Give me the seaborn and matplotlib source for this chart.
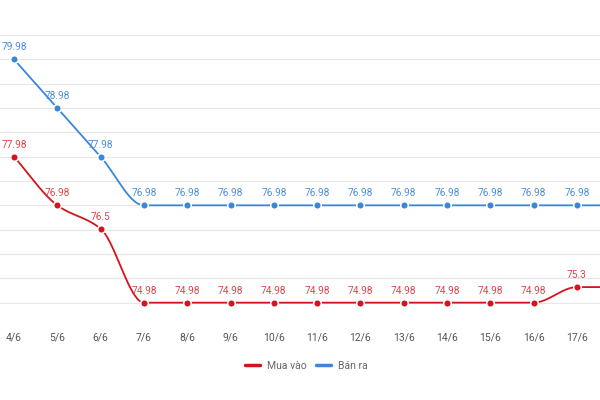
import numpy as np
import pandas as pd
import matplotlib
matplotlib.use("Agg")
import matplotlib.pyplot as plt
import seaborn as sns

dates = ["4/6", "5/6", "6/6", "7/6", "8/6", "9/6", "10/6", "11/6", "12/6",
         "13/6", "14/6", "15/6", "16/6", "17/6", "18/6"]
mua_vao = [77.98, 76.98, 76.5, 74.98, 74.98, 74.98, 74.98, 74.98, 74.98,
           74.98, 74.98, 74.98, 74.98, 75.3, 75.3]
ban_ra = [79.98, 78.98, 77.98, 76.98, 76.98, 76.98, 76.98, 76.98, 76.98,
          76.98, 76.98, 76.98, 76.98, 76.98, 76.98]
series_names = ["Mua vào", "Bán ra"]

RED = "#d4141c"
BLUE = "#3a86d9"
RED_TXT = "#d9474d"
BLUE_TXT = "#4b8fd8"

sns.set_theme(style="white")
plt.rcParams["font.family"] = ["Roboto", "DejaVu Sans"]


def monotone(y, n=40):
    y = np.asarray(y, float)
    x = np.arange(len(y), dtype=float)
    d = np.diff(y)
    m = np.zeros_like(y)
    m[0] = d[0]
    m[-1] = d[-1]
    for i in range(1, len(y) - 1):
        if d[i - 1] * d[i] <= 0:
            m[i] = 0.0
        else:
            m[i] = 2.0 / (1.0 / d[i - 1] + 1.0 / d[i])
    xs, ys = [], []
    for i in range(len(y) - 1):
        t = np.linspace(0, 1, n)
        h00 = 2 * t**3 - 3 * t**2 + 1
        h10 = t**3 - 2 * t**2 + t
        h01 = -2 * t**3 + 3 * t**2
        h11 = t**3 - t**2
        xs.append(x[i] + t)
        ys.append(h00 * y[i] + h10 * m[i] + h01 * y[i + 1] + h11 * m[i + 1])
    return np.concatenate(xs), np.concatenate(ys)


fig = plt.figure(figsize=(6, 4), dpi=100)
ax = fig.add_axes([-7.65 / 600, 73 / 400, 649.5 / 600, 292 / 400])

idx = np.arange(len(dates))
visible = len(dates) - 1  # last point lies beyond the right edge
for vals, col, tcol, name in [(mua_vao, RED, RED_TXT, series_names[0]),
                              (ban_ra, BLUE, BLUE_TXT, series_names[1])]:
    xs, ys = monotone(vals)
    sns.lineplot(x=xs, y=ys, ax=ax, color=col, lw=1.3, sort=False,
                 estimator=None, label=name, zorder=3)
    sns.scatterplot(x=idx, y=vals, ax=ax, color=col, s=30, edgecolor="white",
                    linewidth=1.1, zorder=4, legend=False)
    for i, v in zip(idx[:visible], vals[:visible]):
        ax.annotate(f"{v:g}", (i, v), xytext=(0, 5), textcoords="offset points",
                    ha="center", va="bottom", fontsize=7.3, color=tcol,
                    zorder=5, annotation_clip=False)

ax.set_xlim(-0.5, len(dates) - 0.5)
ax.set_ylim(74.48, 80.48)
ax.set_yticks(np.arange(74.48, 80.49, 0.5))
ax.set_xticks(idx)
ax.set_xticklabels(dates[:visible] + [""])
ax.tick_params(axis="x", length=0, pad=4, labelsize=7.5, labelcolor="#555555")
ax.tick_params(axis="y", length=0, labelleft=False)
ax.grid(axis="y", color="#e6e6e6", lw=0.8)
ax.grid(axis="x", visible=False)
for s in ax.spines.values():
    s.set_visible(False)
ax.set_xlabel("")
ax.set_ylabel("")

h, l = ax.get_legend_handles_labels()
ax.get_legend().remove()
fig.legend(h, l, loc="center", bbox_to_anchor=(306 / 600, 1 - 366 / 400),
           ncol=2, frameon=False, fontsize=7.5, handlelength=1.5,
           handletextpad=0.6, columnspacing=0.9, labelcolor="#666666")
for lh in fig.legends[0].get_lines():
    lh.set_linewidth(2.5)

fig.savefig("out.png", dpi=100)
